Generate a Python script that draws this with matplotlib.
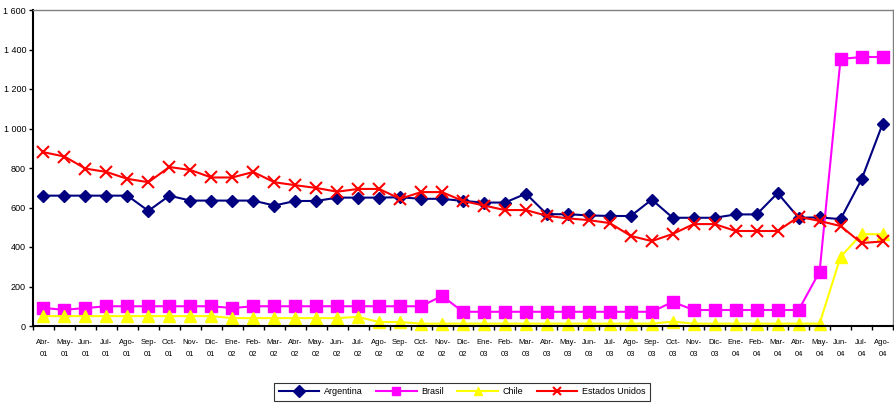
import numpy as np
import matplotlib.pyplot as plt
from matplotlib.ticker import FuncFormatter

plt.rcParams['font.family'] = ['Liberation Sans', 'DejaVu Sans']

meses = ["Abr-01", "May-01", "Jun-01", "Jul-01", "Ago-01", "Sep-01", "Oct-01", "Nov-01", "Dic-01",
         "Ene-02", "Feb-02", "Mar-02", "Abr-02", "May-02", "Jun-02", "Jul-02", "Ago-02", "Sep-02",
         "Oct-02", "Nov-02", "Dic-02", "Ene-03", "Feb-03", "Mar-03", "Abr-03", "May-03", "Jun-03",
         "Jul-03", "Ago-03", "Sep-03", "Oct-03", "Nov-03", "Dic-03", "Ene-04", "Feb-04", "Mar-04",
         "Abr-04", "May-04", "Jun-04", "Jul-04", "Ago-04"]

argentina = [660, 660, 660, 660, 660, 583, 660, 635, 635, 635, 635, 610, 633, 633, 650, 650, 650, 652,
             644, 644, 633, 625, 625, 670, 566, 566, 560, 557, 557, 640, 548, 548, 548, 565, 565, 673,
             548, 550, 541, 742, 1022]
brasil = [91, 82, 91, 100, 100, 100, 100, 100, 100, 91, 100, 100, 100, 100, 100, 100, 100, 100,
          100, 152, 72, 72, 72, 72, 72, 72, 72, 72, 72, 72, 122, 81, 81, 81, 81, 81, 81, 275, 1352,
          1362, 1362]
chile = [50, 50, 50, 50, 50, 50, 50, 50, 50, 40, 40, 40, 40, 40, 40, 46, 20, 20, 12, 12, 12, 12, 12,
         12, 12, 12, 12, 12, 12, 12, 22, 12, 12, 12, 12, 12, 12, 12, 350, 465, 465]
eeuu = [880, 858, 797, 780, 745, 728, 805, 790, 752, 752, 780, 728, 713, 699, 680, 694, 694, 644,
        678, 678, 633, 610, 587, 587, 558, 545, 536, 521, 456, 430, 466, 516, 516, 481, 481, 481,
        553, 532, 506, 420, 428]

x = np.arange(len(meses))

fig = plt.figure(figsize=(8.94, 4.03), dpi=100)
ax = fig.add_axes([33 / 894, 77 / 403, 860 / 894, 316 / 403])

ax.plot(x, argentina, color='#000080', marker='D', markersize=6, lw=1.5, label='Argentina')
ax.plot(x, brasil, color='#ff00ff', marker='s', markersize=8.5, lw=1.5, label='Brasil', clip_on=False)
ax.plot(x, chile, color='#ffff00', marker='^', markersize=8.5, lw=1.5, label='Chile', clip_on=False)
ax.plot(x, eeuu, color='#ff0000', marker='x', markersize=8, mew=1.5, lw=1.5, label='Estados Unidos')

ax.set_xlim(-0.5, len(meses) - 0.5)
ax.set_ylim(0, 1600)
ax.set_yticks(np.arange(0, 1601, 200))
ax.yaxis.set_major_formatter(FuncFormatter(lambda v, p: f"{int(v):,}".replace(",", " ")))
ax.tick_params(axis='y', labelsize=6.5, length=3, width=1, pad=2)

ax.set_xticks(x)
ax.set_xticklabels([m.replace("-", "-\n") for m in meses], fontsize=5.5, linespacing=2.1)
ax.set_xticks(np.arange(-0.5, len(meses), 1), minor=True)
ax.tick_params(axis='x', which='major', length=0, pad=9)
ax.tick_params(axis='x', which='minor', length=3, width=1)

for s in ['left', 'bottom']:
    ax.spines[s].set_color('black')
    ax.spines[s].set_linewidth(1.5)
for s in ['top', 'right']:
    ax.spines[s].set_color('#808080')
    ax.spines[s].set_linewidth(1)

leg = fig.legend(loc='center', bbox_to_anchor=(462 / 894, 1 - 392 / 403), ncol=4, fontsize=6.5,
                 frameon=True, fancybox=False, edgecolor='black', handlelength=4.5,
                 columnspacing=1.5, borderpad=0.5, handletextpad=0.5)
leg.get_frame().set_linewidth(0.8)
for h in leg.legend_handles:
    h.set_markersize(6)

fig.savefig('out.png', dpi=100)
